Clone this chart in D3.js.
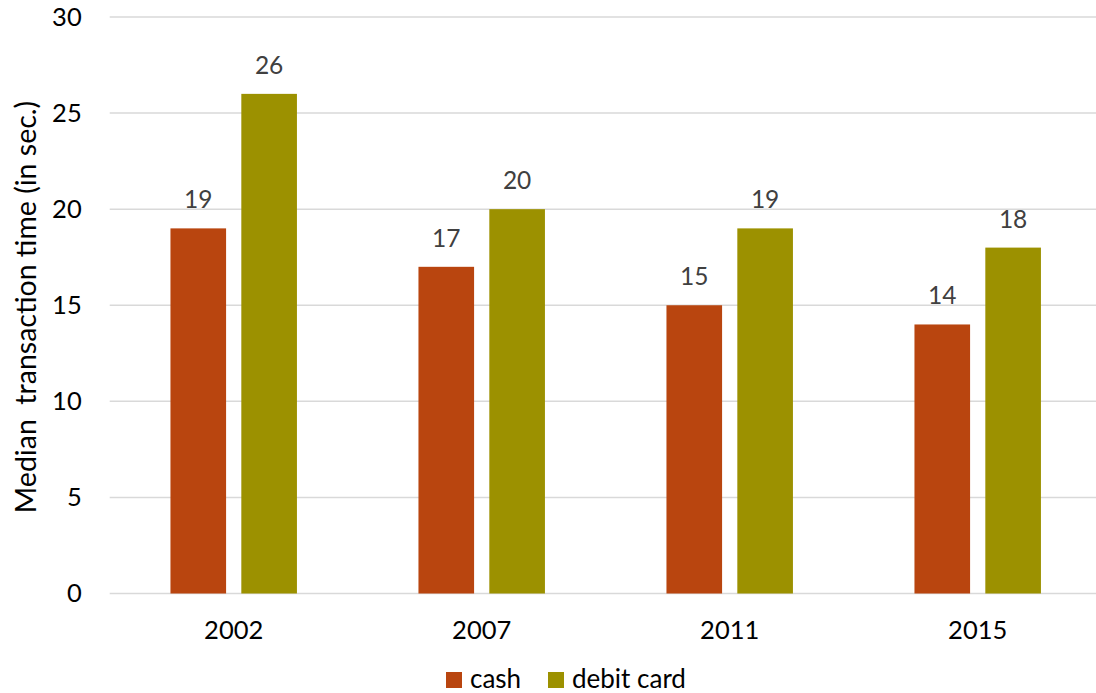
<!DOCTYPE html>
<html><head><meta charset="utf-8">
<script src="https://cdn.jsdelivr.net/npm/d3@7"></script>
<style>body{margin:0;background:#fff}svg{display:block}text{font-family:Lato,"Open Sans",sans-serif}</style>
</head><body><svg id="c" width="1096" height="693"></svg>
<script>
const categories = ["2002","2007","2011","2015"];
const seriesNames = ["cash","debit card"];
const cash = [19,17,15,14];
const debit = [26,20,19,18];
const yTicks = [0,5,10,15,20,25,30];
const colors = ["#B9450F","#9C9100"];

const svg = d3.select("#c");
const L=109.7, R=1101.7, T=17, B=593.5;
const x = d3.scaleBand().domain(categories).range([L,R]).paddingInner(0.49).paddingOuter(0.245);
const xs = d3.scaleBand().domain(seriesNames).range([0,x.bandwidth()]).paddingInner(0.215);
const y = d3.scaleLinear().domain([0,30]).range([B,T]);

svg.append("g").selectAll("line").data(yTicks).join("line")
  .attr("x1",L).attr("x2",1096).attr("y1",d=>y(d)).attr("y2",d=>y(d))
  .attr("stroke","#d9d9d9").attr("stroke-width",1.5);

const ya = svg.append("g").attr("transform",`translate(${L},0)`)
  .call(d3.axisLeft(y).tickValues(yTicks).tickSize(0).tickPadding(28));
ya.select(".domain").remove();
ya.selectAll("text").attr("font-size",25.5).attr("fill","#000").attr("font-family","Lato");

const xa = svg.append("g").attr("transform",`translate(0,${B})`)
  .call(d3.axisBottom(x).tickSize(0).tickPadding(27));
xa.select(".domain").remove();
xa.selectAll("text").attr("font-size",25.5).attr("fill","#000").attr("font-family","Lato");

const data = categories.map((c,i)=>({c, vals:[cash[i],debit[i]]}));
const g = svg.append("g").selectAll("g").data(data).join("g")
  .attr("transform",d=>`translate(${x(d.c)},0)`);
g.selectAll("rect").data(d=>d.vals.map((v,j)=>({v,s:seriesNames[j],j}))).join("rect")
  .attr("x",d=>xs(d.s)).attr("width",xs.bandwidth())
  .attr("y",d=>y(d.v)).attr("height",d=>B-y(d.v)).attr("fill",d=>colors[d.j]);
g.selectAll("text.lbl").data(d=>d.vals.map((v,j)=>({v,s:seriesNames[j],j}))).join("text")
  .attr("class","lbl")
  .attr("x",d=>xs(d.s)+xs.bandwidth()/2).attr("y",d=>y(d.v)-20)
  .attr("text-anchor","middle").attr("font-size",24.5).attr("fill","#404040").text(d=>d.v);

svg.append("text").attr("transform",`translate(36,${(92+522)/2}) rotate(-90)`)
  .attr("text-anchor","middle").attr("font-size",28.5).attr("fill","#000")
  .style("white-space","pre")
  .text("Median  transaction time (in sec.)");

const leg = svg.append("g");
const legX = [446,548];
seriesNames.forEach((s,i)=>{
  leg.append("rect").attr("x",legX[i]).attr("y",672).attr("width",16).attr("height",16).attr("fill",colors[i]);
  leg.append("text").attr("x",legX[i]+24).attr("y",687.5).attr("font-size",26).attr("fill","#000").text(s);
});
</script></body></html>
